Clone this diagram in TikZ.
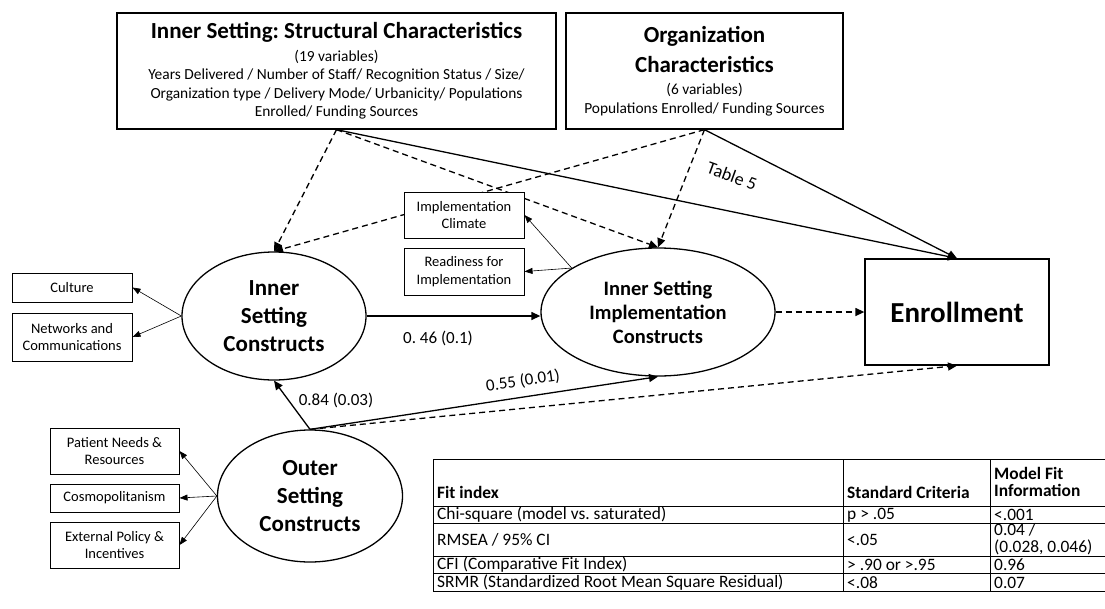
\documentclass[tikz,border=0pt]{standalone}
\usepackage{fontspec}
\setmainfont{Carlito}
\usetikzlibrary{positioning,arrows.meta,shapes.geometric}
\newcommand{\setfs}[2]{\fontsize{#1}{#2}\selectfont}
\newcommand{\hd}[1]{{\bfseries\setfs{23}{28}#1}}
\frenchspacing

\begin{document}
\begin{tikzpicture}[x=1pt,y=-1pt,
    font=\setfs{15.4}{18.5},
    box/.style={draw,line width=1.3pt,align=center,inner sep=0pt},
    smallbox/.style={draw,fill=white,line width=1pt,align=center,inner sep=0pt,font=\setfs{14.5}{17.5}},
    construct/.style={draw,ellipse,line width=1.3pt,align=center,inner sep=0pt,font=\bfseries\setfs{23}{28}},
    arr/.style={-{Triangle[length=9pt,width=8pt]},line width=1.3pt},
    dasharr/.style={arr,dash pattern=on 6pt off 4pt},
    thinarr/.style={-{Triangle[length=8pt,width=6pt]},line width=0.6pt},
    coef/.style={font=\setfs{17}{20}},
    cell/.style={anchor=west,inner sep=0pt,align=left,font=\setfs{17.4}{17}},
    head/.style={cell,font=\bfseries\setfs{17.4}{17}}
  ]
  \useasboundingbox (0,0) rectangle (1105,608);

  % characteristics boxes
  \node[box,minimum width=439pt,minimum height=116pt] (struct) at (336.5,71)
    {\hd{Inner Setting: Structural Characteristics}\\[4pt]
     (19 variables)\\
     Years Delivered / Number of Staff/ Recognition Status / Size/\\
     Organization type / Delivery Mode/ Urbanicity/ Populations\\
     Enrolled/ Funding Sources};
  \node[box,minimum width=277pt,minimum height=116pt] (org) at (704.5,71)
    {\hd{Organization}\\[9pt]
     \hd{Characteristics}\\[4pt]
     (6 variables)\\
     Populations Enrolled/ Funding Sources};

  % constructs
  \node[construct,minimum width=184pt,minimum height=128pt] (inner) at (274,316) {Inner\\Setting\\Constructs};
  \node[construct,minimum width=234pt,minimum height=128pt,font=\bfseries\setfs{20.5}{24}] (impl) at (658,312) {Inner Setting\\Implementation\\Constructs};
  \node[construct,minimum width=185pt,minimum height=132pt] (outer) at (310,496) {Outer\\Setting\\Constructs};
  \node[box,minimum width=184pt,minimum height=106pt,font=\bfseries\setfs{29}{34}] (enroll) at (957,312) {Enrollment};

  % paths from the characteristics
  \draw[dasharr] (struct.south) -- (inner.north);
  \draw[dasharr] (struct.south) -- (impl.north);
  \draw[arr] (struct.south) -- (enroll.north);
  \draw[dasharr] (org.south) -- (inner.north);
  \draw[dasharr] (org.south) -- (impl.north);
  \draw[arr] (org.south) -- (enroll.north);
  \node[font=\setfs{18}{21},rotate=-20] (tab5) at (732,176) {Table 5};

  % structural paths
  \draw[arr] (inner.east) -- (inner.east -| impl.west);
  \node[coef] (c46) at (438,338) {0. 46 (0.1)};
  \draw[arr] (outer.north) -- (inner.south);
  \node[coef] (c84) at (336,400) {0.84 (0.03)};
  \draw[arr] (outer.north) -- (impl.south);
  \node[coef,rotate=8.5] (c55) at (523,381) {0.55 (0.01)};
  \draw[dasharr] (outer.north) -- (enroll.south);
  \draw[dasharr] (impl.east) -- (enroll.west);

  % indicators
  \node[smallbox,minimum width=120pt,minimum height=46pt] (climate) at (464,215) {Implementation\\Climate};
  \node[smallbox,minimum width=120pt,minimum height=47pt] (ready) at (464,271.5) {Readiness for\\Implementation};
  \node[smallbox,minimum width=120pt,minimum height=29pt] (culture) at (72,287.5) {Culture};
  \node[smallbox,minimum width=120pt,minimum height=48pt] (networks) at (72,337) {Networks and\\Communications};
  \node[smallbox,minimum width=129pt,minimum height=46pt] (needs) at (114.5,451) {Patient Needs \&\\Resources};
  \node[smallbox,minimum width=129pt,minimum height=28pt] (cosmo) at (114.5,498) {Cosmopolitanism};
  \node[smallbox,minimum width=129pt,minimum height=46pt] (policy) at (114.5,545) {External Policy \&\\Incentives};

  \draw[thinarr] (impl.153) -- (climate.east);
  \draw[thinarr] (impl.153) -- (ready.east);
  \draw[thinarr] (inner.west) -- (culture.east);
  \draw[thinarr] (inner.west) -- (networks.east);
  \draw[thinarr] (outer.west) -- (needs.east);
  \draw[thinarr] (outer.west) -- (cosmo.east);
  \draw[thinarr] (outer.west) -- (policy.east);

  % fit table
  \draw[line width=1pt] (433,591) -- (433,459) -- (1108,459);
  \foreach \y in {506,523,556,573,591}
    \draw[line width=1pt] (433,\y) -- (1108,\y);
  \foreach \x in {843,990}
    \draw[line width=1pt] (\x,459) -- (\x,591);
  \node[head] (h1) at (437,492) {Fit index};
  \node[head] (h2) at (847,492) {Standard Criteria};
  \node[head] (h3) at (994,482) {Model Fit\\Information};
  \node[cell] (a1) at (437,515) {Chi-square (model vs. saturated)};
  \node[cell] (b1) at (847,515) {p > .05};
  \node[cell] (c1) at (994,515) {<.001};
  \node[cell] (a2) at (437,540) {RMSEA / 95\% CI};
  \node[cell] (b2) at (847,540) {<.05};
  \node[cell] (c2) at (994,539.5) {0.04 /\\(0.028, 0.046)};
  \node[cell] (a3) at (437,565) {CFI (Comparative Fit Index)};
  \node[cell] (b3) at (847,565) {> .90 or >.95};
  \node[cell] (c3) at (994,565) {0.96};
  \node[cell] (a4) at (437,582.5) {SRMR (Standardized Root Mean Square Residual)};
  \node[cell] (b4) at (847,582.5) {<.08};
  \node[cell] (c4) at (994,582.5) {0.07};
\end{tikzpicture}
\end{document}
